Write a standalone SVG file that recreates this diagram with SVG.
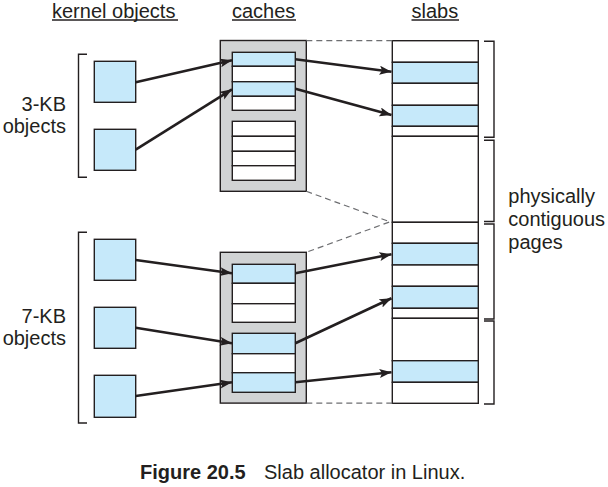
<svg xmlns="http://www.w3.org/2000/svg" width="608" height="487" viewBox="0 0 608 487">
<defs>
<style>
text{font-family:"Liberation Sans",Arial,sans-serif;font-size:20px;fill:#231f20}
.obj{fill:#c6e9fa;stroke:#231f20;stroke-width:1.4}
.cache{fill:#d1d3d4;stroke:#231f20;stroke-width:1.4}
.w{fill:#fff;stroke:#231f20;stroke-width:1.4}
.b{fill:#c6e9fa;stroke:#231f20;stroke-width:1.4}
.ln{fill:none;stroke:#231f20;stroke-width:1.4}
.arr{fill:none;stroke:#231f20;stroke-width:2.6;marker-end:url(#ah)}
.dash{fill:none;stroke:#6d6e71;stroke-width:1.2;stroke-dasharray:6 4}
</style>
<marker id="ah" markerUnits="userSpaceOnUse" markerWidth="14" markerHeight="10" refX="12" refY="4.5" orient="auto" viewBox="0 0 14 10">
<path d="M0,0 L12,4.5 L0,9 L2.5,4.5 z" fill="#231f20"/>
</marker>
</defs>
<rect width="608" height="487" fill="#fff"/>

<g id="headers">
<text x="52" y="17.5">kernel objects</text>
<line class="ln" x1="52" y1="20" x2="178" y2="20" stroke-width="1.2"/>
<text x="232" y="17.5">caches</text>
<line class="ln" x1="232" y1="20" x2="296" y2="20" stroke-width="1.2"/>
<text x="411.5" y="17.5">slabs</text>
<line class="ln" x1="411.5" y1="20" x2="459" y2="20" stroke-width="1.2"/>
</g>

<g id="label-3kb">
<text x="66" y="110.7" text-anchor="end">3-KB</text>
<text x="66" y="133.3" text-anchor="end">objects</text>
<path class="ln" d="M87,54.3 H78.5 V177.3 H87"/>
</g>
<g id="label-7kb">
<text x="66" y="322.7" text-anchor="end">7-KB</text>
<text x="66" y="345" text-anchor="end">objects</text>
<path class="ln" d="M87,232.3 H78.5 V423 H87"/>
</g>

<g id="obj3-1"><rect class="obj" x="94.3" y="61.3" width="41.4" height="41"/></g>
<g id="obj3-2"><rect class="obj" x="94.3" y="129.3" width="41.4" height="41"/></g>
<g id="obj7-1"><rect class="obj" x="94.3" y="239.3" width="41.4" height="41"/></g>
<g id="obj7-2"><rect class="obj" x="94.3" y="307.3" width="41.4" height="41"/></g>
<g id="obj7-3"><rect class="obj" x="94.3" y="375.3" width="41.4" height="42"/></g>

<g id="cache1">
<rect class="cache" x="220.3" y="40.5" width="86" height="150.8"/>
<rect class="b" x="232.3" y="52.3" width="63" height="14"/>
<rect class="w" x="232.3" y="66.3" width="63" height="15.4"/>
<rect class="b" x="232.3" y="81.7" width="63" height="14.6"/>
<rect class="w" x="232.3" y="96.3" width="63" height="14"/>
<rect class="w" x="232.3" y="121.3" width="63" height="15"/>
<rect class="w" x="232.3" y="136.3" width="63" height="15"/>
<rect class="w" x="232.3" y="151.3" width="63" height="14.4"/>
<rect class="w" x="232.3" y="165.7" width="63" height="14.6"/>
</g>

<g id="cache2">
<rect class="cache" x="220.3" y="252.3" width="86" height="150.8"/>
<rect class="b" x="232.3" y="264.3" width="63" height="19"/>
<rect class="w" x="232.3" y="283.3" width="63" height="20.4"/>
<rect class="w" x="232.3" y="303.7" width="63" height="18.6"/>
<rect class="b" x="232.3" y="333.3" width="63" height="20.4"/>
<rect class="w" x="232.3" y="353.7" width="63" height="19"/>
<rect class="b" x="232.3" y="372.7" width="63" height="19.6"/>
</g>

<g id="slabs">
<rect class="w" x="392.3" y="40.7" width="86" height="21.6"/>
<rect class="b" x="392.3" y="62.3" width="86" height="21"/>
<rect class="w" x="392.3" y="83.3" width="86" height="22"/>
<rect class="b" x="392.3" y="105.3" width="86" height="21"/>
<rect class="w" x="392.3" y="126.3" width="86" height="10"/>
<rect class="w" x="392.3" y="136.3" width="86" height="86"/>
<rect class="w" x="392.3" y="222.3" width="86" height="21"/>
<rect class="b" x="392.3" y="243.3" width="86" height="21.7"/>
<rect class="w" x="392.3" y="265" width="86" height="21.3"/>
<rect class="b" x="392.3" y="286.3" width="86" height="22"/>
<rect class="w" x="392.3" y="308.3" width="86" height="10"/>
<rect class="w" x="392.3" y="318.3" width="86" height="42.4"/>
<rect class="b" x="392.3" y="360.7" width="86" height="21.6"/>
<rect class="w" x="392.3" y="382.3" width="86" height="21"/>
</g>

<g id="pages">
<path class="ln" d="M484,41.3 H494 V137.3 H484"/>
<path class="ln" d="M484,140.3 H494 V221.5 H484"/>
<path class="ln" d="M484,224 H494 V319 H484"/>
<path class="ln" d="M484,321 H494 V404 H484"/>
<text x="508.3" y="203">physically</text>
<text x="508.3" y="226">contiguous</text>
<text x="508.3" y="249">pages</text>
</g>

<g id="connectors">
<path class="dash" d="M306.3,40.7 H392.3"/>
<path class="dash" d="M306.3,191.3 L390,221.8 L306.3,252.3"/>
<path class="dash" d="M306.3,403.2 H392.3"/>
<line class="arr" x1="135.7" y1="82.3" x2="232" y2="60.3"/>
<line class="arr" x1="135.7" y1="149.7" x2="232" y2="89.3"/>
<line class="arr" x1="295.3" y1="59.3" x2="391.5" y2="71.7"/>
<line class="arr" x1="295.3" y1="88.7" x2="391.5" y2="115"/>
<line class="arr" x1="135.7" y1="260" x2="232" y2="273.3"/>
<line class="arr" x1="135.7" y1="327.7" x2="232" y2="343.3"/>
<line class="arr" x1="135.7" y1="396" x2="232" y2="382.3"/>
<line class="arr" x1="295.3" y1="273.3" x2="391.5" y2="254.3"/>
<line class="arr" x1="295.3" y1="343.3" x2="391.5" y2="298.3"/>
<line class="arr" x1="295.3" y1="382.3" x2="391.5" y2="372.3"/>
</g>

<g id="caption">
<text x="140" y="479" font-weight="bold">Figure 20.5</text>
<text x="264" y="479">Slab allocator in Linux.</text>
</g>
</svg>
